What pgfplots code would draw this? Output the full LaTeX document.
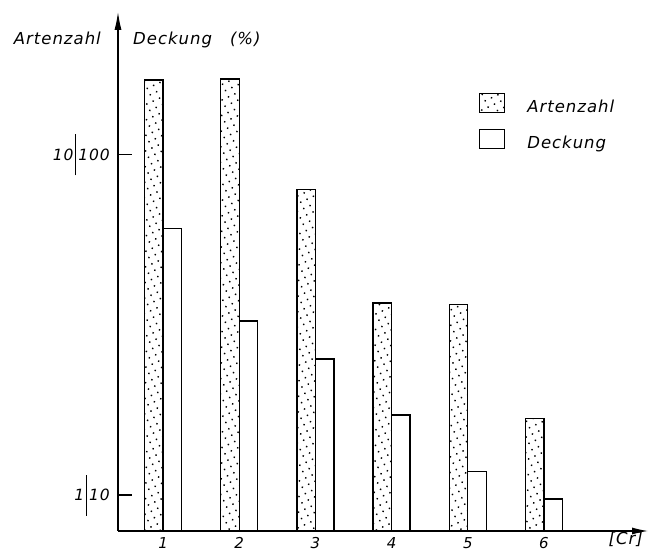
\documentclass[border=0pt]{standalone}
\usepackage{fontspec}
\setmainfont{DejaVu Sans}
\usepackage{pgfplots}
\usepackage{pgfplotstable}
\pgfplotsset{compat=1.18}
\usetikzlibrary{arrows.meta,patterns.meta}
\newfontfamily\lab[LetterSpace=6]{DejaVu Sans}
\newcommand{\sep}{\hspace{2pt}\rule[-15pt]{0.9pt}{41pt}\hspace{2pt}}

\pgfplotstableread{
x A D
1 16.6 60.6
2 16.7 32.5
3 7.9 25.1
4 3.67 17.2
5 3.64 11.7
6 1.68 9.73
}\data

\begin{document}
\begin{tikzpicture}
\useasboundingbox (0,0) rectangle (651pt,551pt);
\begin{axis}[
  at={(118pt,20pt)}, anchor=south west,
  scale only axis, width=530pt, height=519pt,
  clip=false,
  ymode=log, ymin=7.84, ymax=263, log origin y=infty,
  xmin=0.409, xmax=7.365,
  axis lines=left,
  axis line style={line width=1.1pt},
  x axis line style={-{Latex[length=16pt,width=7pt]}},
  y axis line style={-{Latex[length=18pt,width=7pt]}},
  ytick={10,100},
  yticklabels={{\lab\itshape 1\sep 10},{\lab\itshape 10\sep 100}},
  minor y tick num=0,
  minor tick length=0pt,
  minor y tick style={draw=none},
  tick align=inside,
  major tick length=14pt,
  ytick style={line width=1.1pt, black},
  yticklabel style={inner sep=0pt, xshift=-8pt, font=\fontsize{15.5}{17}\selectfont},
  xtick={1,2,3,4,5,6},
  xticklabels={{\textit{1}},{\textit{2}},{\textit{3}},{\textit{4}},{\textit{5}},{\textit{6}}},
  xtick style={draw=none},
  xticklabel style={font=\fontsize{15}{16}\selectfont, inner sep=0pt, yshift=7.5pt},
  ybar, bar width=18.5pt,
  legend style={draw=none, fill=none, inner sep=0pt, outer sep=0pt,
    at={(0.6812,0.844)}, anchor=north west, row sep=15pt, column sep=22pt,
    nodes={inner sep=0pt, font=\fontsize{16.5}{18}\selectfont\lab\itshape}},
  legend cell align=left,
  legend image code/.code={\draw[#1] (0pt,-5.5pt) rectangle (25pt,13.5pt);},
]
\addplot[bar shift=-9.25pt, draw=black, line width=1.3pt,
  pattern={Dots[distance=7pt, radius=1pt, angle=25]}] table[x=x,y=A, y expr=10*\thisrow{A}] {\data};
\addlegendentry{Artenzahl}
\addplot[bar shift=9.25pt, draw=black, line width=1.3pt, fill=white] table[x=x,y=D] {\data};
\addlegendentry{Deckung}
\node[anchor=north east, inner sep=0pt, font=\fontsize{16.5}{18}\selectfont\lab\itshape] at (rel axis cs:1,0) [yshift=-1pt, xshift=-5pt] {[Cr]};
\end{axis}
\node[anchor=base east, inner sep=0pt, font=\fontsize{16.5}{18}\selectfont\lab\itshape] at (101pt,506pt) {Artenzahl};
\node[anchor=base west, inner sep=0pt, font=\fontsize{16.5}{18}\selectfont\lab\itshape] at (133pt,506pt) {Deckung\hspace{18pt}(\%)};
\end{tikzpicture}
\end{document}
